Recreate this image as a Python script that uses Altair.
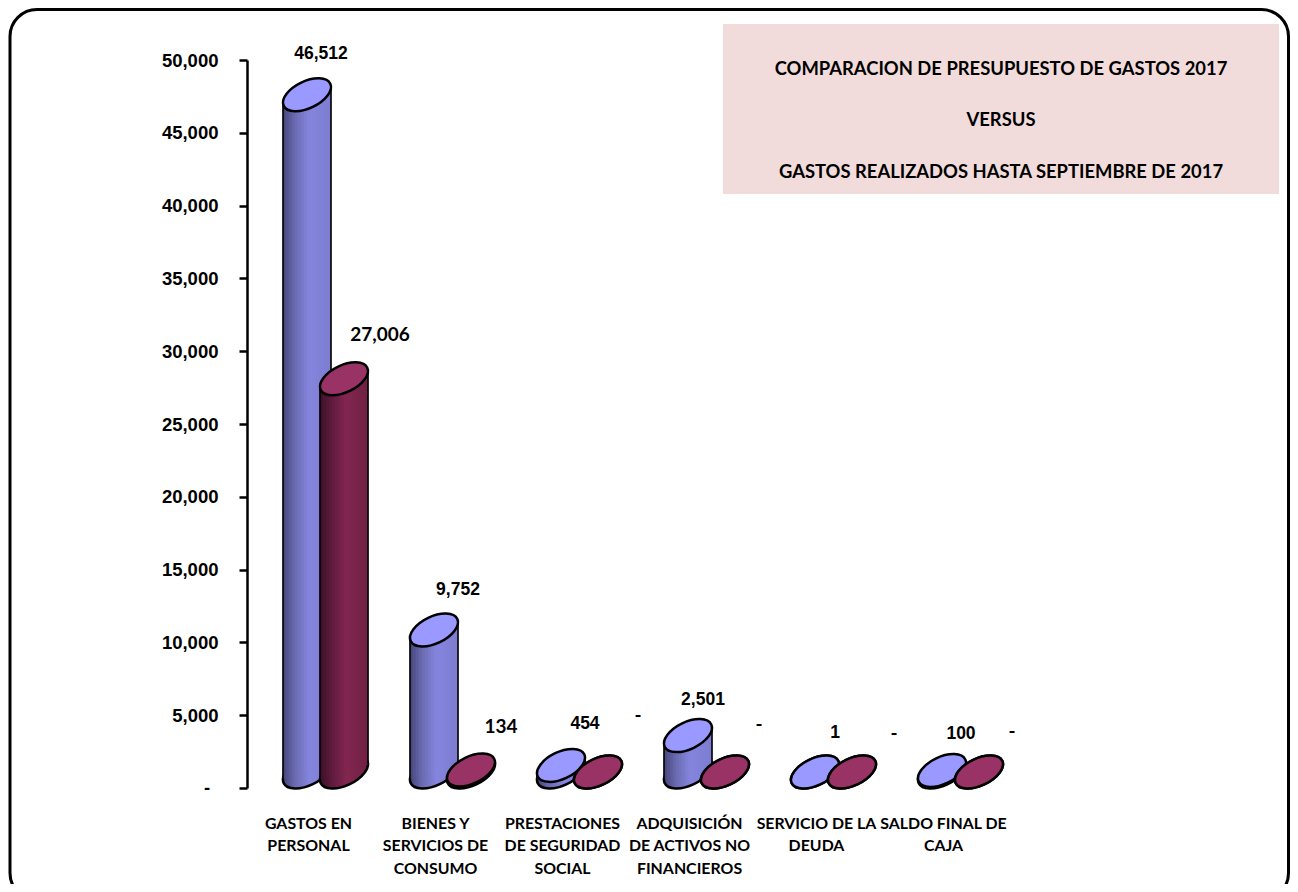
import math
import altair as alt
import pandas as pd

categories = ["GASTOS EN\nPERSONAL", "BIENES Y\nSERVICIOS DE\nCONSUMO",
              "PRESTACIONES\nDE SEGURIDAD\nSOCIAL", "ADQUISICIÓN\nDE ACTIVOS NO\nFINANCIEROS",
              "SERVICIO DE LA\nDEUDA", "SALDO FINAL DE\nCAJA"]
presupuesto = [46512, 9752, 454, 2501, 1, 100]
realizado = [27006, 134, 0, 0, 0, 0]
title_lines = ["COMPARACION DE PRESUPUESTO DE GASTOS 2017", "VERSUS",
               "GASTOS REALIZADOS HASTA SEPTIEMBRE DE 2017"]
y_ticks = [0, 5000, 10000, 15000, 20000, 25000, 30000, 35000, 40000, 45000, 50000]

# layout: slanted ellipse as a custom symbol, in units of half its width
HALF, DEPTH = 24, 16
A_PX, B_PX, TH = 25.8, 13.5, math.radians(25.5)
A, B = A_PX / HALF, B_PX / HALF
SLANT = (A_PX ** 2 - B_PX ** 2) * math.sin(TH) * math.cos(TH) / HALF  # px rise of the right end
def _pt(u, v):
    return (u * math.cos(TH) + v * math.sin(TH), -u * math.sin(TH) + v * math.cos(TH))
K = 0.5523
segs = [((A, K * B), (K * A, B), (0, B)), ((-K * A, B), (-A, K * B), (-A, 0)),
        ((-A, -K * B), (-K * A, -B), (0, -B)), ((K * A, -B), (A, -K * B), (A, 0))]
sx, sy = _pt(A, 0)
ELLIPSE = f"M{sx:.4f},{sy:.4f}"
for seg in segs:
    ELLIPSE += "C" + " ".join("%.4f,%.4f" % _pt(*p) for p in seg)
ELLIPSE += "Z"

W, H = 762, 728
x_scale = alt.Scale(domain=categories, range=[-2, 760], paddingInner=0, paddingOuter=0)
y_scale = alt.Scale(domain=[0, 50000], nice=False)
x_axis = alt.Axis(labelExpr="split(datum.label, '\\n')", labelAngle=0, labelFont="Lato",
                  labelFontWeight="bold", labelFontSize=15.9, labelColor="black",
                  labelLineHeight=22.5, labelPadding=27, labelLimit=0, ticks=False,
                  domain=False, grid=False, labelBaseline="top")
y_axis = alt.Axis(values=y_ticks, grid=False, domainColor="black", domainWidth=2.5,
                  tickColor="black", tickWidth=2.5, tickSize=8, labelPadding=21,
                  labelFont="Liberation Sans", labelFontWeight="bold", labelFontSize=18.5,
                  labelColor="black",
                  labelExpr="datum.value == 0 ? '' : format(datum.value, ',')")
x_enc = alt.X("cat:N", sort=categories, title=None, axis=x_axis, scale=x_scale)
y_enc = alt.Y("val:Q", title=None, axis=y_axis, scale=y_scale)
y_zero = alt.Y("zero:Q", title=None, axis=y_axis, scale=y_scale)

def grad(stops):
    return alt.Gradient(gradient="linear", x1=0, x2=1, y1=0, y2=0,
                        stops=[alt.GradientStop(offset=o, color=c) for o, c in stops])

def sample(stops, t):
    for (o0, c0), (o1, c1) in zip(stops, stops[1:]):
        if o0 <= t <= o1:
            f = (t - o0) / (o1 - o0)
            rgb = [round(int(c0[i:i + 2], 16) * (1 - f) + int(c1[i:i + 2], 16) * f) for i in (1, 3, 5)]
            return "#%02x%02x%02x" % tuple(rgb)
    return stops[-1][1]

COLS = 16
def series(values, shift, top, stops):
    df = pd.DataFrame({"cat": categories, "val": values, "zero": [0] * len(values)})
    base = alt.Chart(df)
    bottom = base.mark_point(shape=ELLIPSE, size=(2 * HALF) ** 2, fill=grad(stops), stroke="black",
                             strokeWidth=2.5, opacity=1, xOffset=shift, yOffset=-DEPTH).encode(
        x=x_enc, y=y_zero)
    out = [bottom]
    step = 2 * HALF / COLS
    for i in range(COLS):
        dx = -HALF + step * (i + 0.5)
        off = -DEPTH - SLANT * dx / HALF
        out.append(base.mark_bar(width=step + 0.6, fill=sample(stops, (i + 0.5) / COLS),
                                 xOffset=shift + dx, yOffset=off, y2Offset=off).encode(
            x=x_enc, y=y_enc, y2="zero:Q"))
    for side in (-1, 1):
        off = -DEPTH - SLANT * side
        out.append(base.mark_rule(color="black", strokeWidth=1.6, xOffset=shift + side * HALF,
                                  yOffset=off, y2Offset=off).encode(x=x_enc, y=y_enc, y2="zero:Q"))
    out.append(base.mark_point(shape=ELLIPSE, size=(2 * HALF) ** 2, fill=top, stroke="black",
                               strokeWidth=2.5, opacity=1, xOffset=shift, yOffset=-DEPTH).encode(
        x=x_enc, y=y_enc))
    return out

def label(cat, val, dx, dy, font, size):
    txt = "-" if val == 0 else f"{val:,}"
    df = pd.DataFrame({"cat": [cat], "val": [val], "txt": [txt]})
    return alt.Chart(df).mark_text(font=font, fontWeight="bold", fontSize=size, color="black",
                                   align="center", baseline="middle", xOffset=dx, yOffset=dy).encode(
        x=x_enc, y=y_enc, text="txt:N")

one = pd.DataFrame({"a": [0]})
frame = alt.Chart(one).mark_rect(cornerRadius=27, fill="transparent", stroke="black", strokeWidth=3).encode(
    x=alt.value(-237), x2=alt.value(1041.5), y=alt.value(-50.5), y2=alt.value(840))
box = alt.Chart(one).mark_rect(fill="#f2dcdb").encode(
    x=alt.value(476), x2=alt.value(1032), y=alt.value(-36), y2=alt.value(134))
title_layers = [
    alt.Chart(pd.DataFrame({"t": [t]})).mark_text(font="Lato", fontWeight="bold", fontSize=18.4,
                                                  color="black", align="center", baseline="middle").encode(
        x=alt.value(754), y=alt.value(py), text="t:N")
    for t, py in zip(title_lines, [9, 60, 112])]
zero_tick = alt.Chart(pd.DataFrame({"val": [0], "t": ["-"]})).mark_text(
    font="Liberation Sans", fontWeight="bold", fontSize=18.5, color="black", align="center",
    baseline="middle").encode(x=alt.value(-40), y=y_enc, text="t:N")

SHIFT_A, SHIFT_B = -1.5, 35.5
blue_nudge = [(14, -57), (24, -56), (24, -57), (15, -52), (20, -55), (19, -53)]
red_nudge = [(36, -60), (30, -59), (40, -72), (34, -63), (42, -54), (33, -56)]
labels = []
for c, v, (dx, dy) in zip(categories, presupuesto, blue_nudge):
    labels.append(label(c, v, SHIFT_A + dx, dy, "Liberation Sans", 17.5))
for c, v, (dx, dy) in zip(categories, realizado, red_nudge):
    labels.append(label(c, v, SHIFT_B + dx, dy, "Lato", 19))

layers = [frame, box] + title_layers
layers += series(presupuesto, SHIFT_A, "#9999ff",
                 [(0, "#45457a"), (0.25, "#6a6ab0"), (0.55, "#8585de"), (1, "#7c7cd0")])
layers += series(realizado, SHIFT_B, "#993366",
                 [(0, "#3a0f26"), (0.25, "#5f1b3d"), (0.55, "#822650"), (1, "#702144")])
layers += labels + [zero_tick]

chart = alt.layer(*layers).properties(
    width=W, height=H,
    padding={"left": 239, "top": 52, "right": 281, "bottom": 96},
    autosize=alt.AutoSizeParams(type="none"),
    background="white",
).configure_view(strokeWidth=0)

chart.save("out.html", embed_options={"renderer": "svg", "actions": False})
